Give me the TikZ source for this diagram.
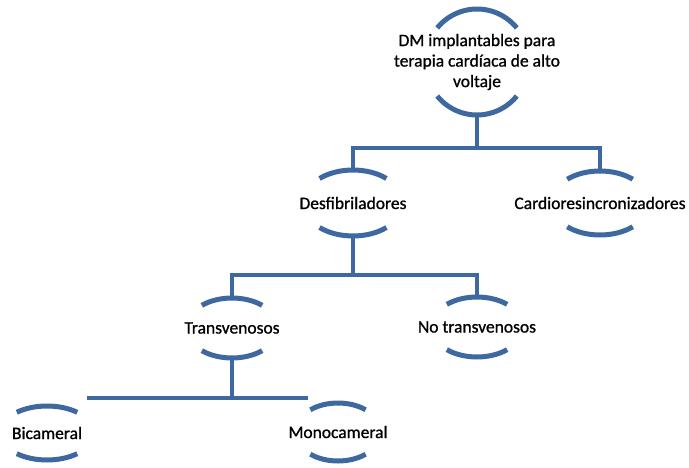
\documentclass[tikz,border=0pt]{standalone}
\usepackage{fontspec}
\setmainfont{Carlito}[FakeBold=1]
\definecolor{arcblue}{RGB}{62,104,160}

\begin{document}
\begin{tikzpicture}[x=1pt,y=1pt]
\tikzset{ring/.style={arcblue, line width=5pt},
  link/.style={arcblue, line width=3.5pt},
  lbl/.style={font=\fontsize{17.5}{20.5}\selectfont, align=center, inner sep=0pt}}
\useasboundingbox (0,0) rectangle (689,467);
% Labels
\foreach \n/\x/\y/\t in {dm/477/62/{DM implantables para\\terapia cardíaca de alto\\voltaje},
    desf/353/203/Desfibriladores, cardio/600/203/Cardioresincronizadores,
    trans/232/328/Transvenosos, notr/477/327/No transvenosos,
    bica/47/433/Bicameral, mono/338/432/Monocameral}
  \node[lbl] (\n) at (\x,467-\y) {\t};
% Arcs above and below each label
\foreach \n/\a/\b/\t in {dm/52/53/40, desf/50/33/48, cardio/49/32/48,
    trans/46/30/49, notr/46/30/49, bica/47/27/50, mono/43/29/50} {
  \draw[ring] (\n.center) ++(\t:\a pt and \b pt)
    arc[start angle=\t, end angle=180-\t, x radius=\a pt, y radius=\b pt];
  \draw[ring] (\n.center) ++(180+\t:\a pt and \b pt)
    arc[start angle=180+\t, end angle=360-\t, x radius=\a pt, y radius=\b pt];
  \path (\n.center) ++(0,\b) coordinate (\n-t) ++(0,-2*\b) coordinate (\n-b);
}
% Links
\path (dm-b) ++(0,-33) coordinate (j1);
\path (desf-b) ++(0,-39) coordinate (j2);
\path (trans-b) ++(0,-39) coordinate (j3);
\draw[link] (dm-b) -- (j1);
\draw[link] (desf-t) |- (j1) -| (cardio-t);
\draw[link] (desf-b) -- (j2);
\draw[link] (trans-t) |- (j2) -| (notr-t);
\draw[link] (trans-b) -- (j3);
\coordinate (bl) at (87,467-398);
\coordinate (br) at (308,467-398);
\draw[link] (bl) -- (br);
\end{tikzpicture}
\end{document}
